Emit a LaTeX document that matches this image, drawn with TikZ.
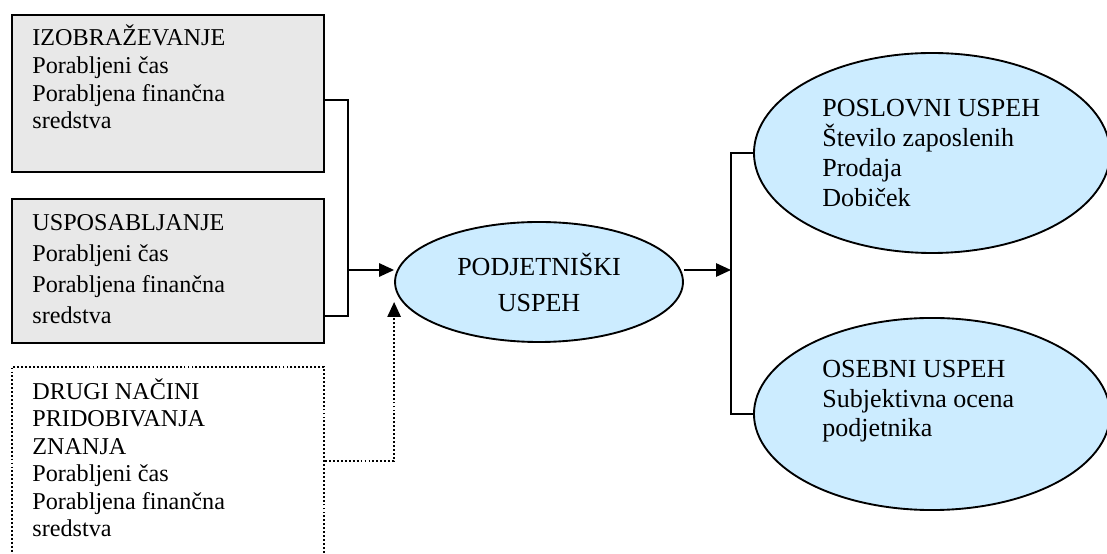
\documentclass[tikz,border=0pt]{standalone}
\usepackage{fontspec}
\setmainfont{Liberation Serif}
\usetikzlibrary{arrows.meta,shapes.geometric,positioning}
\definecolor{boxgray}{RGB}{232,232,232}
\definecolor{ellblue}{RGB}{204,236,255}
\tikzset{>={Triangle[length=7.2pt,width=6.4pt]}}

\begin{document}
\begin{tikzpicture}[x=0.48pt,y=-0.48pt,
    graybox/.style={draw,fill=boxgray,line width=1pt,minimum width=149.8pt,anchor=north west,inner sep=0pt},
    dotbox/.style={draw,line width=0.9pt,dash pattern=on 0.9pt off 1pt,minimum width=149.8pt,anchor=north west,inner sep=0pt},
    goal/.style={ellipse,draw,fill=ellblue,line width=0.9pt,inner sep=0pt},
    txt/.style={anchor=base west,align=left,inner sep=0pt},
    line/.style={line width=0.9pt},
    dotline/.style={line width=0.9pt,dash pattern=on 0.9pt off 1pt}]
    \clip (0,0) rectangle (1107,554);

    % ways of getting knowledge (text anchored on its last line)
    \node[graybox,minimum height=75.4pt] (izo) at (11,14) {};
    \node[graybox,minimum height=69.1pt] (usp) at (11,198) {};
    \node[dotbox,minimum height=120pt] (drugi) at (11,366) {};
    \node[txt,font=\fontsize{11.6}{13.3}\selectfont] (izotxt) at ([shift={(21,115)}]izo.north west)
        {IZOBRAŽEVANJE\\Porabljeni čas\\Porabljena finančna\\sredstva};
    \node[txt,font=\fontsize{11.6}{14.9}\selectfont] (usptxt) at ([shift={(21,126)}]usp.north west)
        {USPOSABLJANJE\\Porabljeni čas\\Porabljena finančna\\sredstva};
    \node[txt,font=\fontsize{11.6}{13.2}\selectfont] (drugitxt) at ([shift={(21,171)}]drugi.north west)
        {DRUGI NAČINI\\PRIDOBIVANJA\\ZNANJA\\Porabljeni čas\\Porabljena finančna\\sredstva};

    % success
    \node[goal,minimum width=138.2pt,minimum height=57.6pt,align=center,
          font=\fontsize{12.5}{17.3}\selectfont] (podj) at (539,282) {PODJETNIŠKI\\USPEH};
    \node[goal,minimum width=170.9pt,minimum height=96pt] (pos) at (932,153) {};
    \node[goal,minimum width=170.9pt,minimum height=92.2pt] (oseb) at (932,414) {};
    \node[txt,font=\fontsize{12.5}{14.4}\selectfont] (postxt) at ([shift={(-110,54)}]pos.center)
        {POSLOVNI USPEH\\Število zaposlenih\\Prodaja\\Dobiček};
    \node[txt,font=\fontsize{12.5}{14.2}\selectfont] (osebtxt) at ([shift={(-110,23)}]oseb.center)
        {OSEBNI USPEH\\Subjektivna ocena\\podjetnika};

    % connectors
    \coordinate (bus) at (348,270);
    \coordinate (split) at (731,270);
    \draw[line] ([yshift=-3.1pt]izo.east) -| (bus);
    \draw[line] ([yshift=13.4pt]usp.south east) -| (bus);
    \draw[line,->] (bus) -- (bus -| podj.west);
    \draw[dotline,->] ([yshift=-45.6pt]drugi.north east) -| ([yshift=-9.6pt]podj.west);
    \draw[line,->] (split -| podj.east) -- (split);
    \draw[line] (pos.west) -| (split) |- (oseb.west);
\end{tikzpicture}
\end{document}
